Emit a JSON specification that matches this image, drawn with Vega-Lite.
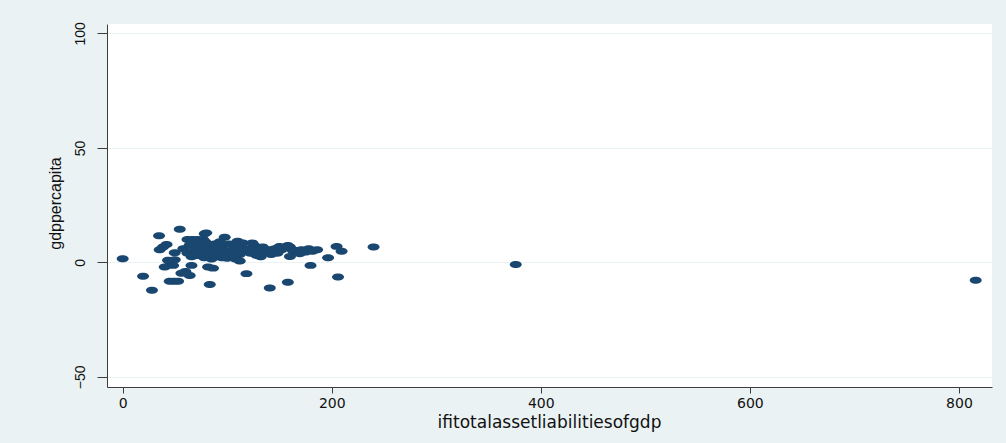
{
  "$schema": "https://vega.github.io/schema/vega-lite/v6.json",
  "width": 885,
  "height": 363,
  "autosize": "none",
  "padding": {"left": 107, "top": 24, "right": 14, "bottom": 56},
  "background": "#eaf2f3",
  "config": {"view": {"fill": "white", "stroke": null}, "font": "Liberation Sans"},
  "data": {
    "values": [
      {"ifi": 0, "gdp": 1.6}, {"ifi": 19.5, "gdp": -6}, {"ifi": 28, "gdp": -12.2}, {"ifi": 34.8, "gdp": 11.6},
      {"ifi": 54.6, "gdp": 14.5}, {"ifi": 38.6, "gdp": 6.7}, {"ifi": 35.4, "gdp": 5.5}, {"ifi": 42, "gdp": 7.8},
      {"ifi": 49.8, "gdp": 4.2}, {"ifi": 43.4, "gdp": 0.9}, {"ifi": 49.8, "gdp": 1.2}, {"ifi": 46, "gdp": -0.5},
      {"ifi": 40.2, "gdp": -2}, {"ifi": 48.2, "gdp": -1.3}, {"ifi": 56.2, "gdp": -4.7}, {"ifi": 64.1, "gdp": -5.7},
      {"ifi": 60, "gdp": -4}, {"ifi": 45, "gdp": -8.2}, {"ifi": 53, "gdp": -8.2}, {"ifi": 49, "gdp": -8.2},
      {"ifi": 65.8, "gdp": -1.3}, {"ifi": 62, "gdp": 10}, {"ifi": 67, "gdp": 10}, {"ifi": 72, "gdp": 10},
      {"ifi": 77, "gdp": 10}, {"ifi": 78.5, "gdp": 12.5}, {"ifi": 70.5, "gdp": 3.8}, {"ifi": 73.7, "gdp": 6.7},
      {"ifi": 81.7, "gdp": -2}, {"ifi": 83.3, "gdp": -9.6}, {"ifi": 86.4, "gdp": -2.5}, {"ifi": 80, "gdp": 12.9},
      {"ifi": 97.6, "gdp": 11}, {"ifi": 110, "gdp": 9.3},
      {"ifi": 66, "gdp": 2.5}, {"ifi": 68, "gdp": 5}, {"ifi": 72, "gdp": 3}, {"ifi": 75, "gdp": 6},
      {"ifi": 76, "gdp": 8}, {"ifi": 78, "gdp": 2}, {"ifi": 80, "gdp": 4.5}, {"ifi": 82, "gdp": 7},
      {"ifi": 84, "gdp": 3}, {"ifi": 86, "gdp": 5.5}, {"ifi": 88, "gdp": 8}, {"ifi": 90, "gdp": 2.5},
      {"ifi": 92, "gdp": 6}, {"ifi": 94, "gdp": 4}, {"ifi": 96, "gdp": 7.5}, {"ifi": 98, "gdp": 3},
      {"ifi": 100, "gdp": 5}, {"ifi": 102, "gdp": 8}, {"ifi": 104, "gdp": 2.5}, {"ifi": 106, "gdp": 6},
      {"ifi": 108, "gdp": 4}, {"ifi": 110, "gdp": 7}, {"ifi": 112, "gdp": 3.5}, {"ifi": 114, "gdp": 6},
      {"ifi": 70, "gdp": 7.5}, {"ifi": 79, "gdp": 9}, {"ifi": 85, "gdp": 1.5}, {"ifi": 93, "gdp": 9},
      {"ifi": 100, "gdp": 1.8}, {"ifi": 62, "gdp": 4}, {"ifi": 58, "gdp": 6}, {"ifi": 64, "gdp": 7.5},
      {"ifi": 88, "gdp": 3.5}, {"ifi": 95, "gdp": 2}, {"ifi": 103, "gdp": 4.5}, {"ifi": 108, "gdp": 1.5},
      {"ifi": 115, "gdp": 8.5}, {"ifi": 118, "gdp": 5},
      {"ifi": 120, "gdp": 6}, {"ifi": 122, "gdp": 4}, {"ifi": 126, "gdp": 7.4}, {"ifi": 128, "gdp": 3},
      {"ifi": 130, "gdp": 5}, {"ifi": 134, "gdp": 6.7}, {"ifi": 136, "gdp": 4.5}, {"ifi": 140, "gdp": 5.5},
      {"ifi": 145.5, "gdp": 6}, {"ifi": 148, "gdp": 4}, {"ifi": 152, "gdp": 5.5}, {"ifi": 156, "gdp": 6.5},
      {"ifi": 158, "gdp": 7.4}, {"ifi": 160, "gdp": 2.6}, {"ifi": 160, "gdp": 6.7}, {"ifi": 163, "gdp": 5},
      {"ifi": 166, "gdp": 5.2}, {"ifi": 169.4, "gdp": 3.8}, {"ifi": 171, "gdp": 5.5}, {"ifi": 175, "gdp": 4.5},
      {"ifi": 178, "gdp": 6}, {"ifi": 181.6, "gdp": 4.9}, {"ifi": 186, "gdp": 5.5}, {"ifi": 150, "gdp": 7},
      {"ifi": 142, "gdp": 3.5}, {"ifi": 124, "gdp": 8.5}, {"ifi": 132, "gdp": 2.5},
      {"ifi": 112, "gdp": 0.6}, {"ifi": 118.4, "gdp": -4.9}, {"ifi": 140.7, "gdp": -11.2}, {"ifi": 158, "gdp": -8.7},
      {"ifi": 179.7, "gdp": -1.3}, {"ifi": 196.5, "gdp": 2}, {"ifi": 206, "gdp": -6.4}, {"ifi": 204.6, "gdp": 7},
      {"ifi": 209.4, "gdp": 4.9}, {"ifi": 240, "gdp": 6.7}, {"ifi": 376, "gdp": -0.9}, {"ifi": 816, "gdp": -7.8}
    ]
  },
  "mark": {
    "type": "point",
    "filled": true,
    "opacity": 1,
    "color": "#1a476f",
    "shape": "M-1,0A1,0.58,0,1,1,1,0A1,0.58,0,1,1,-1,0Z",
    "size": 144
  },
  "encoding": {
    "x": {
      "field": "ifi",
      "type": "quantitative",
      "title": "ifitotalassetliabilitiesofgdp",
      "scale": {"domain": [-15, 831.6], "nice": false, "zero": false},
      "axis": {
        "values": [0, 200, 400, 600, 800],
        "grid": false,
        "tickSize": 6,
        "domainColor": "#3c3c3c",
        "tickColor": "#3c3c3c",
        "labelFont": "DejaVu Sans",
        "labelFontSize": 14,
        "labelColor": "#111111",
        "labelPadding": 3,
        "titleFont": "DejaVu Sans",
        "titleFontSize": 17,
        "titleFontWeight": "normal",
        "titleColor": "#111111",
        "titleBaseline": "alphabetic",
        "titleAlign": "center",
        "titleX": 442,
        "titleY": 40
      }
    },
    "y": {
      "field": "gdp",
      "type": "quantitative",
      "title": "gdppercapita",
      "scale": {"domain": [-54.4, 104.1], "nice": false, "zero": false},
      "axis": {
        "values": [-50, 0, 50, 100],
        "grid": true,
        "gridColor": "#eaf2f3",
        "gridWidth": 1,
        "tickSize": 10,
        "domainColor": "#3c3c3c",
        "tickColor": "#3c3c3c",
        "labelAngle": 270,
        "labelAlign": "center",
        "labelBaseline": "bottom",
        "labelPadding": 10,
        "labelFontSize": 14,
        "labelColor": "#111111",
        "titleFontSize": 16,
        "titleFontWeight": "normal",
        "titleColor": "#111111",
        "titleAngle": 270,
        "titleAlign": "center",
        "titleBaseline": "alphabetic",
        "titleX": -47,
        "titleY": 179
      }
    }
  }
}
